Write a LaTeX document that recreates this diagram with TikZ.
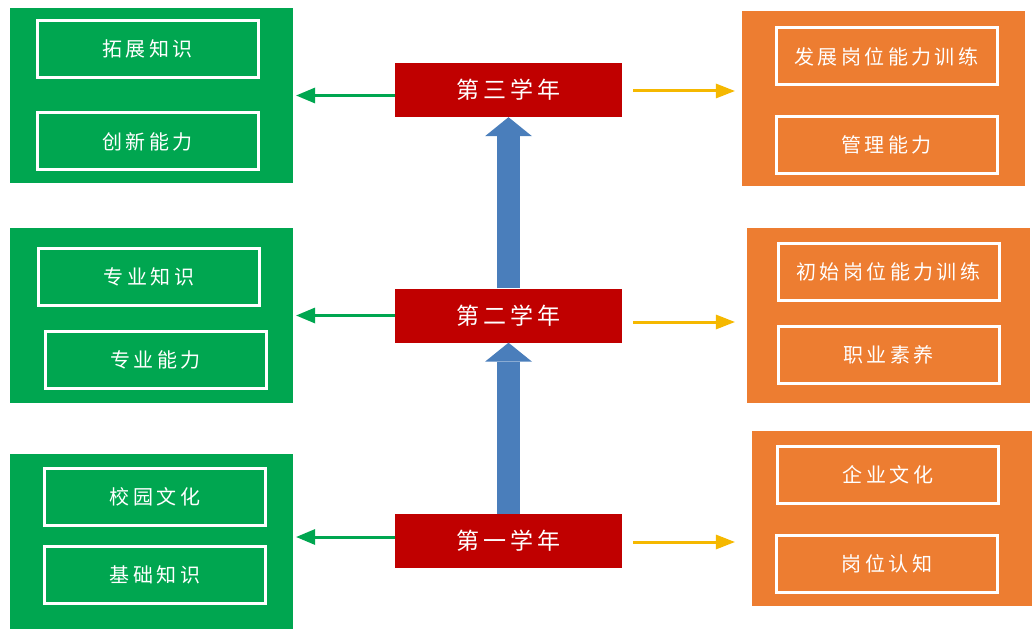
\documentclass[tikz,border=0pt]{standalone}
\usepackage{fontspec}
\usetikzlibrary{arrows.meta}
\newfontfamily\cjk[LetterSpace=17]{Noto Sans CJK SC}
\definecolor{boxgreen}{HTML}{00A650}
\definecolor{boxorange}{HTML}{ED7D31}
\definecolor{boxred}{HTML}{C00000}
\definecolor{arrowblue}{HTML}{4A7EBB}
\definecolor{arrowyellow}{HTML}{F5B800}

\begin{document}
\begin{tikzpicture}[x=1pt,y=-1pt,
    outer/.style={minimum width=283pt, minimum height=175pt, inner sep=0pt},
    item/.style={draw=white, line width=3pt, minimum width=221pt, minimum height=57pt,
      inner sep=0pt, text=white, font=\cjk\fontsize{20}{24}\selectfont},
    year/.style={fill=boxred, minimum width=227pt, minimum height=54pt, inner sep=0pt,
      text=white, font=\cjk\fontsize{23}{28}\selectfont},
    garrow/.style={draw=boxgreen, line width=3pt, -{Triangle[length=19pt,width=16pt,line width=0pt]}},
    yarrow/.style={draw=arrowyellow, line width=3pt, -{Triangle[length=19pt,width=15pt,line width=0pt]}},
    barrow/.style={draw=arrowblue, line width=23pt, -{Triangle[length=19pt,width=47pt,line width=0pt]}}]

        \useasboundingbox (0,0) rectangle (1032,631);

        % outer boxes
        \begin{scope}[every node/.style={outer}]
          \node[fill=boxgreen]  (g3) at (151.5,95.5)  {};
          \node[fill=boxgreen]  (g2) at (151.5,315.5) {};
          \node[fill=boxgreen]  (g1) at (151.5,541.5) {};
          \node[fill=boxorange] (o3) at (883.5,98.5)  {};
          \node[fill=boxorange] (o2) at (888.5,315)   {};
          \node[fill=boxorange, minimum width=280pt] (o1) at (892,518.5) {};
        \end{scope}

        % items
        \begin{scope}[every node/.style={item}]
          \node (g3a) at (147.5,49)   {拓展知识};
          \node (g3b) at (147.5,141.5) {创新能力};
          \node (g2a) at (149,276.5)  {专业知识};
          \node (g2b) at (155.5,360)  {专业能力};
          \node (g1a) at (155,497)    {校园文化};
          \node (g1b) at (155,575)    {基础知识};
          \node (o3a) at (886.5,56.5) {发展岗位能力训练};
          \node (o3b) at (886.5,145)  {管理能力};
          \node (o2a) at (888.5,271.5) {初始岗位能力训练};
          \node (o2b) at (888.5,354.5) {职业素养};
          \node (o1a) at (888,475)    {企业文化};
          \node (o1b) at (887,564)    {岗位认知};
        \end{scope}

        % years
        \begin{scope}[every node/.style={year}]
          \node (r3) at (508.5,90)    {第三学年};
          \node (r2) at (508.5,315.5) {第二学年};
          \node (r1) at (508.5,541)   {第一学年};
        \end{scope}

        \draw[barrow] (r1.north) -- (r2.south);
        \draw[barrow] (r2.north) -- (r3.south);

        \draw[garrow] (r3.west |- g3.east) -- ([xshift=3pt]g3.east);
        \draw[garrow] (r2.west |- g2.east) -- ([xshift=3pt]g2.east);
        \draw[garrow] ([yshift=4pt]r1.west) -- ([yshift=4pt,xshift=3pt]r1.west -| g1.east);

        \begin{scope}[shorten <=11pt, shorten >=7pt]
          \draw[yarrow] ([yshift=-1pt]r3.east) -- ([yshift=-1pt]r3.east -| o3.west);
          \draw[yarrow] ([yshift=-6.5pt]r2.east) -- ([yshift=-6.5pt,xshift=-5pt]r2.east -| o2.west);
          \draw[yarrow] ([yshift=-1pt]r1.east) -- ([yshift=-1pt,xshift=-10pt]r1.east -| o1.west);
        \end{scope}

      \end{tikzpicture}
\end{document}
